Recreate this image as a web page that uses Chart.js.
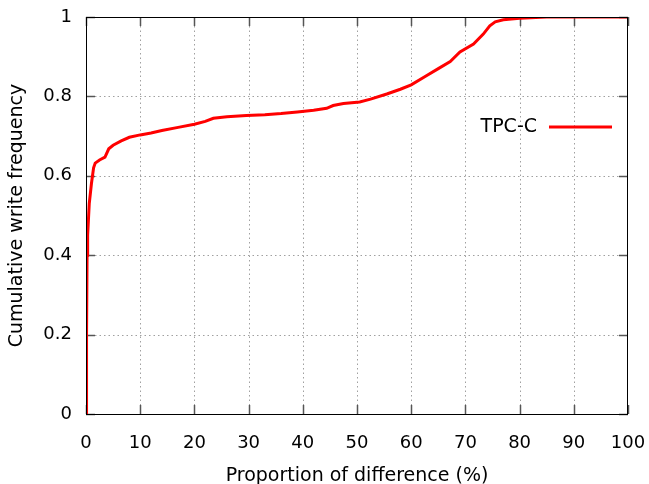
<!DOCTYPE html>
<html>
<head>
<meta charset="utf-8">
<script src="https://cdn.jsdelivr.net/npm/chart.js@4.4.0/dist/chart.umd.min.js"></script>
<style>
  html, body { margin: 0; padding: 0; background: #ffffff; }
  #c { display: block; }
</style>
</head>
<body>
<canvas id="c" width="649" height="484"></canvas>
<script>
// ---- data ----
const seriesLabel = 'TPC-C';
const proportion = [0, 0.1, 0.2, 0.3, 0.6, 1.0, 1.4, 1.7, 2.5, 3.5, 4.2, 5, 6.5, 8, 10, 12, 14, 17, 20, 22, 23.5, 26, 29.6, 33, 36, 39, 42, 44.4, 45.6, 47.5, 50.5, 52.5, 55.5, 58, 60, 62.8, 65, 67.2, 69, 71.5, 73.3, 74.5, 75.5, 77, 80, 85, 100];
const cumFreq = [0, 0.2, 0.4, 0.45, 0.53, 0.58, 0.62, 0.632, 0.64, 0.647, 0.668, 0.677, 0.688, 0.697, 0.703, 0.708, 0.714, 0.722, 0.73, 0.737, 0.745, 0.749, 0.752, 0.754, 0.757, 0.761, 0.765, 0.770, 0.777, 0.782, 0.786, 0.793, 0.806, 0.818, 0.829, 0.852, 0.87, 0.888, 0.912, 0.932, 0.957, 0.978, 0.988, 0.993, 0.997, 1.0, 1.0];
const xTicks = [0, 10, 20, 30, 40, 50, 60, 70, 80, 90, 100];
const yTicks = [0, 0.2, 0.4, 0.6, 0.8, 1];

const FONT = 'DejaVu Sans';

const framePlugin = {
  id: 'frame',
  beforeDatasetsDraw(chart) {
    const { ctx, chartArea: a, scales: { x, y } } = chart;
    ctx.save();
    ctx.strokeStyle = '#a0a0a0';
    ctx.lineWidth = 1;
    ctx.setLineDash([1.5, 3]);
    xTicks.forEach(v => {
      if (v === x.min || v === x.max) return;
      const px = Math.round(x.getPixelForValue(v)) + 0.5;
      ctx.beginPath(); ctx.moveTo(px, a.top); ctx.lineTo(px, a.bottom); ctx.stroke();
    });
    yTicks.forEach(v => {
      if (v === y.min || v === y.max) return;
      const py = Math.round(y.getPixelForValue(v)) + 0.5;
      ctx.beginPath(); ctx.moveTo(a.left, py); ctx.lineTo(a.right, py); ctx.stroke();
    });
    ctx.setLineDash([]);
    const tl = 9;
    ctx.strokeStyle = '#555555';
    ctx.lineWidth = 1.5;
    xTicks.forEach(v => {
      const px = Math.round(x.getPixelForValue(v)) + 0.5;
      ctx.beginPath(); ctx.moveTo(px, a.bottom); ctx.lineTo(px, a.bottom - tl); ctx.stroke();
      ctx.beginPath(); ctx.moveTo(px, a.top); ctx.lineTo(px, a.top + tl); ctx.stroke();
    });
    yTicks.forEach(v => {
      const py = Math.round(y.getPixelForValue(v)) + 0.5;
      ctx.beginPath(); ctx.moveTo(a.left, py); ctx.lineTo(a.left + tl, py); ctx.stroke();
      ctx.beginPath(); ctx.moveTo(a.right, py); ctx.lineTo(a.right - tl, py); ctx.stroke();
    });
    ctx.restore();
  },
  afterDatasetsDraw(chart) {
    const { ctx, chartArea: a } = chart;
    ctx.save();
    ctx.strokeStyle = '#000000';
    ctx.lineWidth = 1;
    ctx.strokeRect(Math.round(a.left) + 0.5, Math.round(a.top) + 0.5,
                   Math.round(a.right - a.left) - 1, Math.round(a.bottom - a.top));
    const ds = chart.data.datasets[0];
    const ly = a.top + 110;
    ctx.fillStyle = '#000000';
    ctx.font = '19px "' + FONT + '"';
    ctx.textAlign = 'right';
    ctx.textBaseline = 'middle';
    ctx.fillText(ds.label, a.right - 91, ly);
    ctx.strokeStyle = ds.borderColor;
    ctx.lineWidth = ds.borderWidth;
    ctx.beginPath(); ctx.moveTo(a.right - 79, ly); ctx.lineTo(a.right - 16, ly); ctx.stroke();
    ctx.restore();
  }
};

new Chart(document.getElementById('c'), {
  type: 'line',
  data: {
    datasets: [{
      label: seriesLabel,
      data: proportion.map((p, i) => ({ x: p, y: cumFreq[i] })),
      borderColor: '#ff0000',
      borderWidth: 3,
      pointRadius: 0,
      tension: 0,
      fill: false
    }]
  },
  options: {
    responsive: false,
    animation: false,
    devicePixelRatio: 1,
    layout: { padding: { top: 17, right: 21, left: 0, bottom: 0 } },
    plugins: { legend: { display: false }, tooltip: { enabled: false } },
    scales: {
      x: {
        type: 'linear',
        min: 0, max: 100,
        afterBuildTicks: s => { s.ticks = xTicks.map(v => ({ value: v })); },
        afterFit: s => { s.height = 70; s.paddingLeft = 0; s.paddingRight = 0; },
        grid: { display: false, drawTicks: false },
        border: { display: false },
        ticks: { color: '#000', padding: 19, maxRotation: 0, font: { family: FONT, size: 18 } },
        title: { display: true, text: 'Proportion of difference (%)', color: '#000', padding: { top: 0, bottom: -3 }, font: { family: FONT, size: 19 } }
      },
      y: {
        type: 'linear',
        min: 0, max: 1,
        afterBuildTicks: s => { s.ticks = yTicks.map(v => ({ value: v })); },
        afterFit: s => { s.width = 86; s.paddingTop = 0; s.paddingBottom = 0; },
        grid: { display: false, drawTicks: false },
        border: { display: false },
        ticks: { color: '#000', padding: 14, font: { family: FONT, size: 18 }, callback: v => String(v) },
        title: { display: true, text: 'Cumulative write frequency', color: '#000', padding: { top: 6, bottom: 0 }, font: { family: FONT, size: 19 } }
      }
    }
  },
  plugins: [framePlugin]
});
</script>
</body>
</html>
